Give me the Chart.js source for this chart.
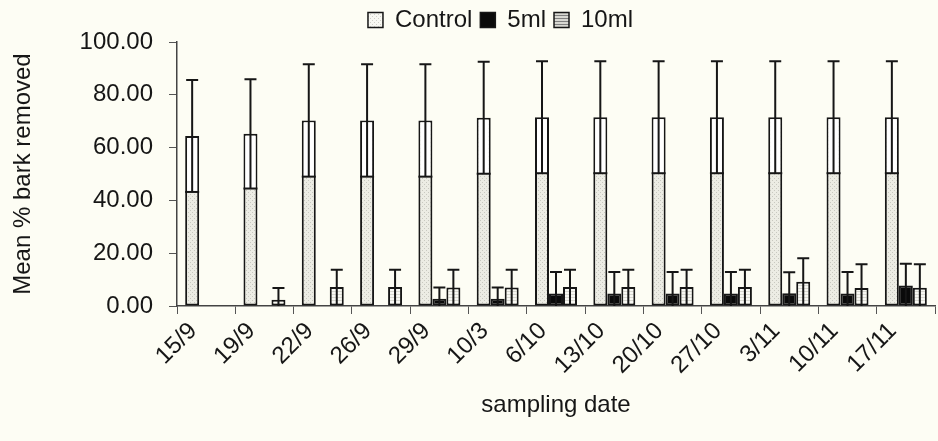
<!DOCTYPE html>
<html>
<head>
<meta charset="utf-8">
<script src="https://cdn.jsdelivr.net/npm/chart.js@4/dist/chart.umd.min.js"></script>
<style>
  body { margin: 0; background: #fdfdf4; }
  #wrap { width: 938px; height: 441px; }
</style>
</head>
<body>
<div id="wrap"><canvas id="barkChart" width="938" height="441"></canvas></div>
<script>
// sampling dates and mean % bark removed (with standard error) per treatment
const dates = ['15/9', '19/9', '22/9', '26/9', '29/9', '10/3', '6/10', '13/10', '20/10', '27/10', '3/11', '10/11', '17/11'];
const controlMean = [64.4, 65.2, 70.3, 70.3, 70.3, 71.3, 71.5, 71.5, 71.5, 71.5, 71.5, 71.5, 71.5];
const controlErr = [21.2, 20.7, 21.3, 21.3, 21.3, 21.2, 21.2, 21.2, 21.2, 21.2, 21.2, 21.2, 21.2];
const ml5Mean = [0, 0, 0, 0, 2.7, 2.7, 4.7, 4.7, 4.7, 4.7, 4.8, 4.7, 7.8];
const ml5Err = [0, 0, 0, 0, 4.3, 4.3, 8.2, 8.2, 8.2, 8.2, 8.0, 8.2, 8.2];
const ml10Mean = [0, 2.4, 7.2, 7.2, 7.0, 7.0, 7.2, 7.2, 7.2, 7.2, 9.2, 6.8, 6.9];
const ml10Err = [0, 4.4, 6.5, 6.5, 6.7, 6.7, 6.5, 6.5, 6.5, 6.5, 8.9, 9.0, 8.9];
const yTicks = [0, 20, 40, 60, 80, 100];

const canvas = document.getElementById('barkChart');
const ctx = canvas.getContext('2d');

// small tiled fills: stipple for control, horizontal hatch for 10ml
function makePattern(w, h, bg, ink, paint) {
    const c = document.createElement('canvas');
    c.width = w;
    c.height = h;
    const g = c.getContext('2d');
    g.fillStyle = bg;
    g.fillRect(0, 0, w, h);
    g.fillStyle = ink;
    paint(g);
    return ctx.createPattern(c, 'repeat');
}
const dots = g => { g.fillRect(0, 0, 1, 1); g.fillRect(2, 2, 1, 1); };
const lines = g => { g.fillRect(0, 0, 3, 1); };
const controlFill = makePattern(4, 4, '#ececE4', '#c8c8c0', dots);
const controlLegend = makePattern(4, 4, '#f8f8f2', '#d0d0c8', dots);
const hatchFill = makePattern(3, 3, '#f8f8f3', '#d8d8d0', lines);
const hatchLegend = makePattern(3, 3, '#d8d8d2', '#808080', lines);

const font = { family: '"Liberation Sans", Arial, sans-serif', size: 24 };
const ink = '#161616';

// error bars; the control whisker runs from mean - err so its upper part shows hollow
const errorBars = {
    id: 'errorBars',
    afterDatasetsDraw(chart) {
        const c = chart.ctx;
        const y = chart.scales.y;
        chart.data.datasets.forEach((ds, i) => {
            const meta = chart.getDatasetMeta(i);
            meta.data.forEach((bar, j) => {
                const mean = ds.data[j];
                const err = ds.errors[j];
                if (!err) return;
                const half = bar.width / 2;
                const low = Math.max(0, mean - err);
                const yLow = y.getPixelForValue(low);
                const yMean = y.getPixelForValue(mean);
                const yTop = y.getPixelForValue(mean + err);
                c.save();
                c.strokeStyle = ink;
                c.lineWidth = 2;
                if (ds.hollowTop && low > 0) {
                    c.fillStyle = '#ffffff';
                    c.fillRect(bar.x - half + 2, yMean + 2, bar.width - 4, yLow - yMean - 2);
                    c.beginPath();
                    c.moveTo(bar.x - half, yLow);
                    c.lineTo(bar.x + half, yLow);
                    c.stroke();
                }
                c.beginPath();
                c.moveTo(bar.x, yLow);
                c.lineTo(bar.x, yTop);
                c.moveTo(bar.x - half + 1, yTop);
                c.lineTo(bar.x + half - 1, yTop);
                c.stroke();
                c.restore();
            });
        });
    }
};

// nudge the legend row to sit over the bars
const legendShift = {
    id: 'legendShift',
    afterLayout(chart) {
        chart.legend.left += 33;
        chart.legend.right += 33;
    }
};

new Chart(ctx, {
    type: 'bar',
    data: {
        labels: dates,
        datasets: [
            { label: 'Control', data: controlMean, errors: controlErr, hollowTop: true,
              backgroundColor: controlFill, legendFill: controlLegend },
            { label: '5ml', data: ml5Mean, errors: ml5Err,
              backgroundColor: '#0a0a0a', legendFill: '#0a0a0a' },
            { label: '10ml', data: ml10Mean, errors: ml10Err,
              backgroundColor: hatchFill, legendFill: hatchLegend }
        ].map(ds => Object.assign(ds, {
            borderColor: ink,
            borderWidth: 2,
            borderSkipped: false,
            categoryPercentage: 0.72,
            barPercentage: 1.0
        }))
    },
    options: {
        responsive: false,
        animation: false,
        devicePixelRatio: 1,
        layout: { padding: { left: 0, right: 3, top: 0, bottom: 0 } },
        plugins: {
            tooltip: { enabled: false },
            legend: {
                position: 'top',
                labels: {
                    font: font,
                    color: ink,
                    boxWidth: 15,
                    boxHeight: 15,
                    padding: 8,
                    generateLabels(chart) {
                        return chart.data.datasets.map((ds, i) => ({
                            text: ds.label,
                            fillStyle: ds.legendFill,
                            strokeStyle: ink,
                            lineWidth: 1.5,
                            fontColor: ink,
                            datasetIndex: i
                        }));
                    }
                }
            }
        },
        scales: {
            x: {
                offset: true,
                grid: { display: true, drawOnChartArea: false, offset: true, tickLength: 8, color: '#555', lineWidth: 1 },
                border: { color: '#444', width: 1.5 },
                ticks: { autoSkip: false, minRotation: 45, maxRotation: 45, labelOffset: -13, padding: 3, color: ink, font: font },
                title: { display: true, text: 'sampling date', color: ink, font: font, padding: { top: 4, bottom: 21 } },
                afterFit(scale) { scale.height = 135; }
            },
            y: {
                min: 0,
                max: 100,
                afterBuildTicks(scale) { scale.ticks = yTicks.map(v => ({ value: v })); },
                grid: { display: true, drawOnChartArea: false, tickLength: 8, color: '#555', lineWidth: 1 },
                border: { color: '#444', width: 1.5 },
                ticks: { padding: 16, color: ink, font: font, callback: v => v.toFixed(2) },
                title: { display: true, text: 'Mean % bark removed', color: ink, font: font, padding: { top: 9, bottom: 0 } },
                afterFit(scale) { scale.width = 177; }
            }
        }
    },
    plugins: [errorBars, legendShift]
});
</script>
</body>
</html>
